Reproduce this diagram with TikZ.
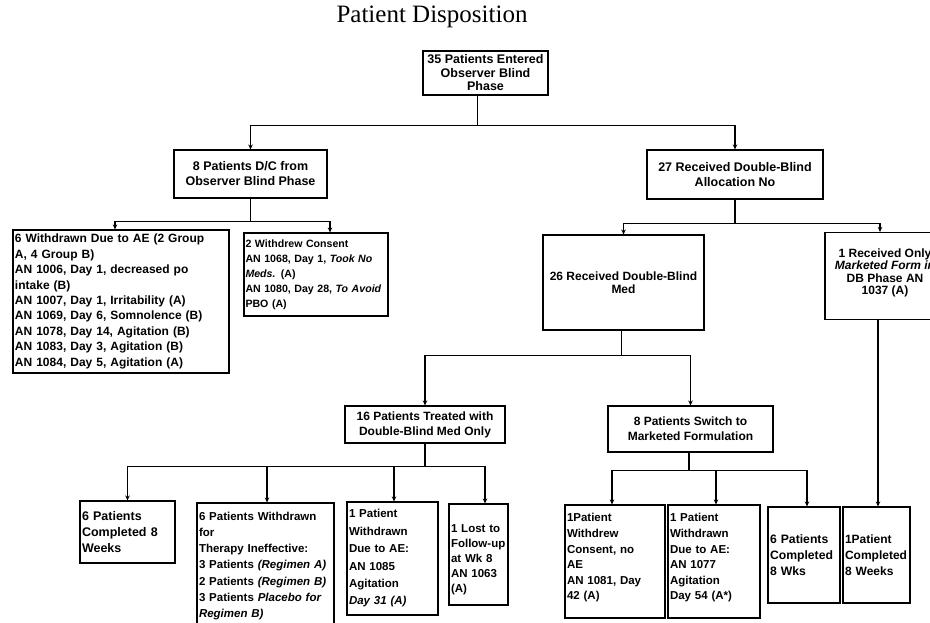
\documentclass[tikz,border=0pt]{standalone}
\usepackage{fontspec}
\setmainfont{Liberation Sans}
\newfontfamily\titlefont{Liberation Serif}
\usetikzlibrary{arrows.meta}
\begin{document}
\begin{tikzpicture}[x=1pt,y=-1pt,
  box/.style={draw,line width=1.1pt,inner sep=2pt,align=center,
    font=\bfseries\fontsize{12}{15}\selectfont},
  lbox/.style={box,align=left},
  link/.style={line width=1.1pt},
  arr/.style={line width=1.1pt,-{Stealth[length=5pt,width=4.5pt]}}]
\useasboundingbox (0,0) rectangle (930,623);
\clip (0,0) rectangle (930,623);

\node[font=\titlefont\fontsize{25}{29}\selectfont] (title) at (432,17) {Patient Disposition};

% level 0
\node[box,minimum width=125pt,minimum height=44pt,font=\bfseries\fontsize{12.5}{13.5}\selectfont] (root) at (485.5,73)
  {35 Patients Entered\\Observer Blind\\Phase};

% level 1
\node[box,minimum width=153pt,minimum height=48pt,font=\bfseries\fontsize{12.5}{15}\selectfont] (b2) at (250.5,174)
  {8 Patients D/C from\\Observer Blind Phase};
\node[box,minimum width=176pt,minimum height=49pt,font=\bfseries\fontsize{12.5}{15}\selectfont] (b3) at (735,174.5)
  {27 Received Double-Blind\\Allocation No};

% level 2 left
\node[lbox,text width=212pt,minimum height=143pt,font=\bfseries\fontsize{12}{15.4}\selectfont] (w6) at (121,301.5)
  {6 Withdrawn Due to AE (2 Group\\A, 4 Group B)\\AN 1006, Day 1, decreased po\\intake (B)\\AN 1007, Day 1, Irritability (A)\\AN 1069, Day 6, Somnolence (B)\\AN 1078, Day 14, Agitation (B)\\AN 1083, Day 3, Agitation (B)\\AN 1084, Day 5, Agitation (A)};
\node[lbox,inner sep=1.5pt,text width=141pt,minimum height=83pt,font=\bfseries\fontsize{10.6}{15}\selectfont] (w2) at (316,274.5)
  {2 Withdrew Consent\\AN 1068, Day 1, \textit{Took No}\\\textit{Meds.} (A)\\AN 1080, Day 28, \textit{To~Avoid}\\PBO (A)};

% level 2 right
\node[box,minimum width=161pt,minimum height=95pt,font=\bfseries\fontsize{12}{13}\selectfont] (r26) at (623.5,282.5)
  {26 Received Double-Blind\\Med};
\node[box,minimum width=120pt,minimum height=87pt,font=\bfseries\fontsize{12}{12.5}\selectfont] (r1) at (885,276)
  {1 Received Only\\\textit{Marketed Form in}\\DB Phase AN\\1037 (A)\\[-4pt]\mbox{}};

% level 3
\node[box,minimum width=160pt,minimum height=37pt] (t16) at (425,424.5)
  {16 Patients Treated with\\Double-Blind Med Only};
\node[box,minimum width=165pt,minimum height=46pt] (s8) at (690.5,429)
  {8 Patients Switch to\\Marketed Formulation};

% level 4
\node[lbox,text width=91pt,minimum height=62pt,font=\bfseries\fontsize{12.5}{16}\selectfont] (c6) at (127.5,532)
  {6 Patients\\Completed 8\\Weeks};
\node[lbox,text width=133pt,minimum height=126pt,font=\bfseries\fontsize{11.5}{16.2}\selectfont] (w6b) at (265.5,566)
  {6 Patients Withdrawn\\for\\Therapy Ineffective:\\3 Patients \textit{(Regimen A)}\\2 Patients \textit{(Regimen B)}\\3 Patients \textit{Placebo for}\\\textit{Regimen B)}};
\node[lbox,text width=87pt,minimum height=113pt,font=\bfseries\fontsize{11.5}{17.4}\selectfont] (p1w) at (392.5,558.5)
  {1 Patient\\Withdrawn\\Due to AE:\\AN 1085\\Agitation\\\textit{Day 31 (A)}};
\node[lbox,text width=55pt,minimum height=101pt,font=\bfseries\fontsize{11.5}{15}\selectfont] (l1) at (478.5,554.5)
  {\mbox{}\\[3pt]1 Lost to\\Follow-up\\at Wk 8\\AN 1063\\(A)};
\node[lbox,text width=96pt,minimum height=113pt,font=\bfseries\fontsize{11.5}{15.6}\selectfont] (wc) at (615,561.5)
  {1Patient\\Withdrew\\Consent, no\\AE\\AN 1081, Day\\42 (A)\\[-6pt]\mbox{}};
\node[lbox,text width=88pt,minimum height=113pt,font=\bfseries\fontsize{11.5}{15.6}\selectfont] (pw2) at (714,561.5)
  {1 Patient\\Withdrawn\\Due to AE:\\AN 1077\\Agitation\\Day 54 (A*)\\[-6pt]\mbox{}};
\node[lbox,text width=68pt,minimum height=96pt,font=\bfseries\fontsize{12.2}{16}\selectfont] (c6w) at (804,555)
  {6 Patients\\Completed\\8 Wks};
\node[lbox,text width=63pt,minimum height=96pt,font=\bfseries\fontsize{12}{16}\selectfont] (p1c) at (876.5,555)
  {1Patient\\Completed\\8 Weeks};

% connectors
\draw[link] ([xshift=-8pt]root.south) -- ++(0,30) coordinate (j1);
\draw[arr] (j1) -| (b2.north);
\draw[arr] (j1) -| (b3.north);

\draw[link] (b2.south) -- ++(0,23) coordinate (j2);
\draw[arr] (j2) -| ([xshift=-6pt]w6.north);
\draw[arr] (j2) -| ([xshift=14pt]w2.north);

\draw[link] (b3.south) -- ++(0,24) coordinate (j3);
\draw[arr] (j3) -| (r26.north);
\draw[arr] (j3) -| ([xshift=-5pt]r1.north);

\draw[link] ([xshift=-2pt]r26.south) -- ++(0,25) coordinate (j4);
\draw[arr] (j4) -| (t16.north);
\draw[arr] (j4) -| (s8.north);

\draw[link] (t16.south) -- ++(0,23) coordinate (j5);
\draw[arr] (j5) -| (c6.north);
\draw[arr] (j5) -| ([xshift=1.5pt]w6b.north);
\draw[arr] (j5) -| ([xshift=1.5pt]p1w.north);
\draw[arr] (j5) -| ([xshift=6.5pt]l1.north);

\draw[link] ([xshift=-1.5pt]s8.south) -- ++(0,18) coordinate (j6);
\draw[arr] (j6) -| ([xshift=-3pt]wc.north);
\draw[arr] (j6) -| ([xshift=2pt]pw2.north);
\draw[arr] (j6) -| ([xshift=3pt]c6w.north);

\draw[arr] ([xshift=1.5pt]p1c.north |- r1.south) -- ([xshift=1.5pt]p1c.north);
\end{tikzpicture}
\end{document}
